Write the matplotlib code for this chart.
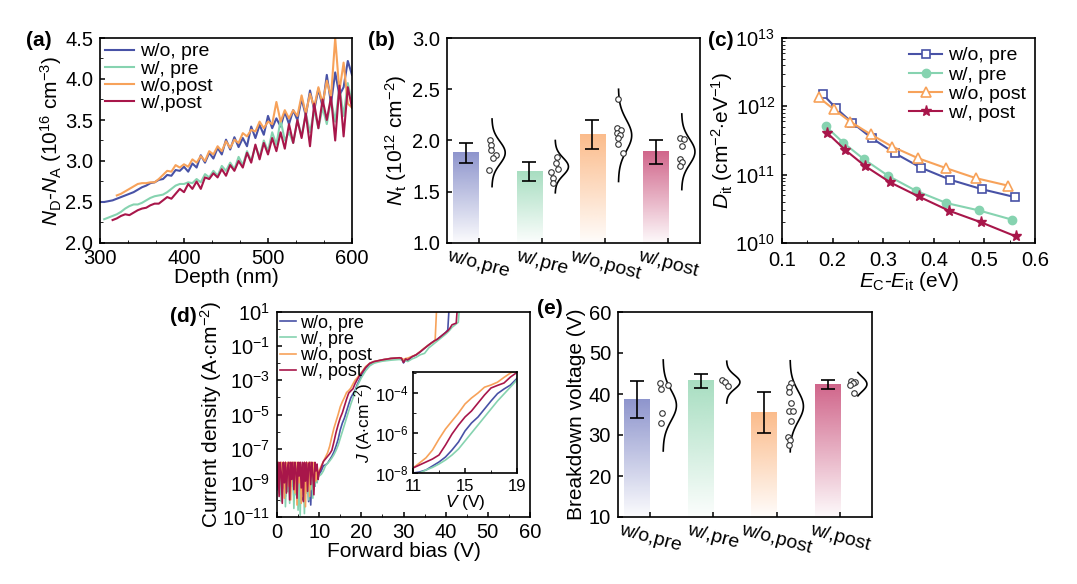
import matplotlib
matplotlib.use("Agg")
import matplotlib.pyplot as plt
import numpy as np
from matplotlib.colors import to_rgb
from matplotlib.ticker import AutoMinorLocator, MultipleLocator, NullFormatter, LogFormatterSciNotation

plt.rcParams['font.family'] = ['Liberation Sans', 'DejaVu Sans']
plt.rcParams['mathtext.fontset'] = 'custom'
plt.rcParams['mathtext.rm'] = 'Liberation Sans'
plt.rcParams['mathtext.it'] = 'Liberation Sans:italic'
plt.rcParams['mathtext.bf'] = 'Liberation Sans:bold'
plt.rcParams['axes.linewidth'] = 1.2
plt.rcParams['xtick.direction'] = 'in'
plt.rcParams['ytick.direction'] = 'in'
plt.rcParams['xtick.major.size'] = 3.5
plt.rcParams['ytick.major.size'] = 3.5
plt.rcParams['xtick.minor.size'] = 2
plt.rcParams['ytick.minor.size'] = 2
plt.rcParams['xtick.major.width'] = 1.1
plt.rcParams['ytick.major.width'] = 1.1
plt.rcParams['xtick.major.pad'] = 4.5
plt.rcParams['ytick.major.pad'] = 5
plt.rcParams['xtick.labelsize'] = 14.5
plt.rcParams['ytick.labelsize'] = 14.5
plt.rcParams['axes.labelsize'] = 15

# ---------------- colours / names ----------------
c_blue = '#4852a6'
c_green = '#86d3b0'
c_orange = '#f7a25a'
c_red = '#a8164a'
bar_colors = ['#7a82c4', '#98d8b6', '#fbb077', '#c84a76']
categories = ['w/o,pre', 'w/,pre', 'w/o,post', 'w/,post']

# ---------------- (a) C-V doping profile ----------------
depth_blue = np.arange(300, 601, 5)
nd_blue = [2.50, 2.50, 2.51, 2.52, 2.54, 2.56, 2.58, 2.60, 2.62, 2.65,
           2.68, 2.70, 2.73, 2.74, 2.77, 2.78, 2.83, 2.82, 2.89, 2.88,
           2.93, 2.87, 2.97, 2.92, 3.07, 2.98, 3.10, 3.03, 3.16, 3.08,
           3.26, 3.14, 3.29, 3.17, 3.28, 3.18, 3.42, 3.28, 3.44, 3.32,
           3.55, 3.40, 3.52, 3.42, 3.60, 3.45, 3.62, 3.50, 3.76, 3.55,
           3.86, 3.62, 3.88, 3.66, 4.05, 3.70, 4.08, 3.80, 3.90, 4.22,
           4.05]
depth_green = np.arange(305, 601, 5)
nd_green = [2.29, 2.31, 2.33, 2.35, 2.38, 2.42, 2.45, 2.47, 2.47, 2.49,
            2.52, 2.55, 2.57, 2.58, 2.59, 2.62, 2.66, 2.70, 2.72, 2.72,
            2.74, 2.73, 2.78, 2.74, 2.84, 2.80, 2.88, 2.82, 2.94, 2.88,
            2.98, 2.90, 3.05, 2.95, 3.12, 3.00, 3.18, 3.05, 3.25, 3.12,
            3.35, 3.20, 3.50, 3.25, 3.35, 3.22, 3.50, 3.30, 3.58, 3.35,
            3.62, 3.40, 3.65, 3.45, 3.75, 3.48, 3.90, 3.55, 3.95, 3.70]
depth_orange = np.arange(320, 601, 5)
nd_orange = [2.58, 2.60, 2.63, 2.66, 2.69, 2.72, 2.73, 2.73, 2.74, 2.74,
             2.78, 2.83, 2.88, 2.87, 2.95, 2.92, 2.96, 2.93, 3.02, 2.98,
             3.06, 3.00, 3.12, 3.08, 3.18, 3.12, 3.24, 3.16, 3.26, 3.22,
             3.34, 3.30, 3.38, 3.36, 3.48, 3.40, 3.48, 3.45, 3.72, 3.48,
             3.62, 3.52, 3.62, 3.55, 3.80, 3.58, 3.82, 3.66, 3.90, 3.70,
             3.98, 3.78, 4.50, 3.85, 4.20, 3.70, 3.65]
depth_red = np.arange(315, 601, 5)
nd_red = [2.28, 2.30, 2.33, 2.35, 2.34, 2.37, 2.40, 2.42, 2.43, 2.46,
          2.48, 2.48, 2.52, 2.56, 2.54, 2.60, 2.66, 2.62, 2.72, 2.66,
          2.75, 2.66, 2.80, 2.78, 2.85, 2.80, 2.90, 2.82, 2.95, 2.88,
          3.00, 2.92, 3.10, 2.98, 3.20, 3.02, 3.22, 3.08, 3.28, 3.12,
          3.35, 3.15, 3.45, 3.22, 3.50, 3.28, 3.58, 3.18, 3.70, 3.40,
          3.75, 3.50, 3.78, 3.25, 3.92, 3.30, 3.90, 3.65]

# ---------------- (b) Nt bars ----------------
nt_mean = [1.88, 1.70, 2.06, 1.89]
nt_err = [0.10, 0.095, 0.14, 0.115]
nt_points = [[2.00, 1.96, 1.91, 1.86, 1.83, 1.71],
             [1.84, 1.78, 1.72, 1.69, 1.63, 1.59],
             [2.40, 2.12, 2.10, 2.07, 2.05, 2.02, 1.97, 1.88],
             [2.02, 2.01, 1.95, 1.82, 1.79, 1.75]]
nt_jitter = [[0.18, 0.20, 0.19, 0.27, 0.22, 0.16],
             [0.24, 0.22, 0.25, 0.15, 0.18, 0.17],
             [0.20, 0.19, 0.25, 0.18, 0.24, 0.20, 0.21, 0.28],
             [0.19, 0.25, 0.21, 0.19, 0.22, 0.19]]
nt_curve_mu = [1.88, 1.745, 2.05, 1.89]
nt_curve_sd = [0.11, 0.085, 0.15, 0.123]
nt_curve_span = [3, 3, 3, 3]

# ---------------- (c) Dit ----------------
e_blue = [0.181, 0.2075, 0.239, 0.278, 0.323, 0.374, 0.433, 0.496, 0.560]
dit_blue = [1.49e12, 9.3e11, 5.75e11, 3.4e11, 2.06e11, 1.27e11, 8.4e10, 6.1e10, 4.7e10]
e_green = [0.186, 0.221, 0.262, 0.310, 0.365, 0.425, 0.489, 0.555]
dit_green = [5.15e11, 2.94e11, 1.68e11, 9.6e10, 5.8e10, 3.84e10, 3.0e10, 2.19e10]
e_orange = [0.1726, 0.202, 0.235, 0.275, 0.318, 0.369, 0.425, 0.483, 0.547]
dit_orange = [1.35e12, 9.1e11, 5.96e11, 3.9e11, 2.57e11, 1.74e11, 1.24e11, 8.9e10, 6.9e10]
e_red = [0.189, 0.225, 0.264, 0.314, 0.370, 0.430, 0.494, 0.562]
dit_red = [4.1e11, 2.3e11, 1.34e11, 7.7e10, 4.8e10, 2.97e10, 2.0e10, 1.25e10]

# ---------------- (d) forward J-V (log10 of J) ----------------
bias_noise = np.arange(0, 10.01, 0.25)
noise_blue = [-9.4, -8.3, -9.1, -8.0, -9.7, -8.4, -9.0, -8.1, -9.8, -8.6,
              -9.3, -8.2, -9.6, -8.5, -9.1, -8.0, -9.9, -8.4, -9.4, -8.2,
              -9.7, -8.7, -9.2, -8.3, -10.0, -8.6, -9.3, -8.2, -9.5, -8.5,
              -10.1, -8.4, -10.3, -8.6, -9.6, -8.8, -9.2, -8.5, -8.9, -8.6, -8.5]
noise_green = [-9.0, -8.2, -9.6, -7.9, -10.1, -8.4, -9.3, -7.9, -10.4, -8.8,
               -9.5, -8.0, -10.2, -8.6, -9.2, -8.1, -10.5, -8.9, -9.7, -8.2,
               -10.6, -8.5, -10.9, -8.3, -9.8, -8.7, -10.8, -8.4, -9.6, -8.1,
               -10.0, -8.6, -9.4, -8.2, -9.9, -8.5, -9.2, -8.3, -9.0, -8.6, -8.6]
noise_orange = [-8.6, -7.8, -9.4, -8.0, -7.8, -9.0, -7.8, -9.9, -7.8, -8.5,
                -7.8, -9.2, -7.8, -10.0, -7.8, -8.7, -7.8, -9.6, -7.8, -10.3,
                -7.8, -9.0, -7.8, -10.2, -7.9, -9.5, -7.8, -10.4, -7.8, -9.2,
                -7.8, -9.8, -7.8, -8.6, -7.8, -9.4, -7.9, -8.9, -8.0, -8.6, -8.3]
noise_red = [-9.2, -7.8, -9.8, -7.8, -8.4, -10.2, -7.8, -9.0, -7.8, -9.6,
             -8.1, -7.8, -10.0, -7.8, -8.8, -7.8, -9.4, -7.8, -8.2, -9.9,
             -7.8, -8.6, -7.8, -9.3, -7.8, -10.1, -7.8, -8.9, -7.8, -9.5,
             -7.9, -7.8, -9.1, -7.8, -8.5, -9.7, -7.8, -8.3, -7.9, -8.8, -8.4]

bias_rise = [10.5, 11, 11.5, 12, 12.5, 13, 13.5, 14, 14.5, 15,
             15.5, 16, 16.5, 17, 17.5, 18, 18.5, 19, 19.5, 20,
             21, 22, 23, 24, 25, 26, 27, 28, 29, 29.5,
             30, 30.5, 31, 32, 33, 34, 35, 36, 37, 37.5,
             38, 39, 40, 40.5, 41, 41.5, 42, 42.5, 43, 43.5,
             44]
nan = np.nan
rise_blue = [-8.3, -8.0, -7.95, -7.85, -7.65, -7.45, -7.2, -6.85, -6.45, -5.9,
             -5.5, -5.2, -4.8, -4.4, -4.03, -3.8, -3.6, -3.27, -3.0, -2.75,
             -2.3, -2.05, -1.92, -1.86, -1.8, -1.76, -1.72, -1.7, -1.68, -1.72,
             -1.98, -1.8, -1.85, -1.62, -1.52, -1.33, -1.12, -0.93, -0.75, -0.67,
             -0.6, -0.4, -0.2, -0.05, 2.0, nan, nan, nan, nan, nan,
             nan]
rise_green = [-8.5, -8.3, -8.0, -7.85, -7.72, -7.55, -7.35, -7.1, -6.8, -6.4,
              -6.0, -5.6, -5.2, -4.8, -4.4, -4.05, -3.7, -3.34, -3.1, -2.85,
              -2.45, -2.15, -2.0, -1.93, -1.88, -1.85, -1.82, -1.8, -1.78, -1.8,
              -1.85, -1.85, -1.9, -1.75, -1.65, -1.5, -1.42, -1.1, -0.9, -0.8,
              -0.7, -0.5, -0.3, -0.18, -0.05, 0.1, 0.2, 0.3, 0.4, 2.0,
              nan]
rise_orange = [-8.0, -7.75, -7.5, -7.24, -6.85, -6.3, -5.8, -5.4, -5.0, -4.55,
               -4.25, -4.0, -3.71, -3.6, -3.46, -3.22, -3.0, -2.86, -2.7, -2.55,
               -2.2, -2.0, -1.9, -1.85, -1.8, -1.75, -1.72, -1.7, -1.68, -1.7,
               -1.78, -1.72, -1.7, -1.6, -1.5, -1.3, -1.1, -0.92, -0.75, -0.68,
               2.0, nan, nan, nan, nan, nan, nan, nan, nan, nan,
               nan]
rise_red = [-8.1, -7.75, -7.6, -7.45, -7.3, -7.1, -6.6, -6.05, -5.6, -5.2,
            -4.9, -4.5, -4.1, -3.75, -3.62, -3.5, -3.2, -2.97, -2.75, -2.6,
            -2.25, -2.0, -1.9, -1.85, -1.8, -1.76, -1.72, -1.7, -1.68, -1.7,
            -1.95, -1.75, -1.8, -1.62, -1.5, -1.32, -1.12, -0.92, -0.74, -0.66,
            -0.6, -0.4, -0.2, -0.1, 0.05, 0.25, 0.3, 0.35, 2.0, nan,
            nan]

# ---------------- (e) breakdown voltage ----------------
bv_mean = [38.6, 43.2, 35.5, 42.3]
bv_err = [4.5, 1.7, 5.1, 1.0]
bv_points = [[42.6, 42.2, 41.2, 35.3, 33.0],
             [43.3, 42.9, 42.0],
             [42.8, 41.8, 40.6, 37.9, 35.9, 35.9, 33.3, 29.5, 28.8, 27.6],
             [43.25, 43.0, 42.6, 42.2, 40.2]]
bv_jitter = [[0.16, 0.28, 0.18, 0.20, 0.17],
             [0.14, 0.19, 0.23],
             [0.22, 0.19, 0.20, 0.22, 0.19, 0.26, 0.23, 0.18, 0.21, 0.19],
             [0.17, 0.24, 0.20, 0.16, 0.21]]
bv_curve_mu = [37.2, 42.9, 37.0, 42.4]
bv_curve_sd = [3.7, 1.7, 3.7, 1.9]
bv_curve_span = [3, 3, 3, 1.5]

W, H = 1077, 584
fig = plt.figure(figsize=(W / 100, H / 100), dpi=100)


def px_axes(left, top, right, bottom):
    return fig.add_axes([left / W, 1 - bottom / H, (right - left) / W, (bottom - top) / H])


def gradient_bar(ax, x, top, bottom, color, width=0.4):
    img = np.zeros((256, 1, 4))
    img[:, 0, :3] = to_rgb(color)
    img[:, 0, 3] = np.linspace(0.03, 0.85, 256)
    ax.imshow(img, extent=[x - width / 2, x + width / 2, bottom, top], origin='lower',
              aspect='auto', interpolation='bilinear', zorder=1)


def bar_panel(ax, means, errs, points, jitter, mus, sds, spans, ylim):
    pos = np.arange(1, len(means) + 1)
    for i, p in enumerate(pos):
        gradient_bar(ax, p - 0.2, means[i], ylim[0], bar_colors[i])
        ax.errorbar(p - 0.2, means[i], yerr=errs[i], fmt='none', ecolor='black',
                    elinewidth=1.2, capsize=5, capthick=1.2, zorder=3)
        ax.scatter(p + np.array(jitter[i]), points[i], s=16, facecolors='white',
                   edgecolors='#333333', linewidths=0.8, zorder=4)
        yy = np.linspace(mus[i] - spans[i] * sds[i], mus[i] + spans[i] * sds[i], 100)
        xx = p + 0.21 + 0.21 * np.exp(-0.5 * ((yy - mus[i]) / sds[i]) ** 2)
        ax.plot(xx, yy, color='black', lw=1.2, zorder=3)
    ax.set_xlim(0.5, len(means) + 0.5)
    ax.set_ylim(*ylim)
    ax.set_xticks(pos)
    ax.set_xticklabels(categories, rotation=-15, ha='center', fontsize=14)
    ax.tick_params(axis='x', pad=3)


# (a)
ax = px_axes(100, 38, 352, 243)
ax.plot(depth_blue, nd_blue, color=c_blue, lw=1.5, label='w/o, pre')
ax.plot(depth_green, nd_green, color=c_green, lw=1.5, label='w/, pre')
ax.plot(depth_orange, nd_orange, color=c_orange, lw=1.5, label='w/o,post')
ax.plot(depth_red, nd_red, color=c_red, lw=1.5, label='w/,post')
ax.set_xlim(300, 600)
ax.set_ylim(2.0, 4.5)
ax.set_xticks([300, 400, 500, 600])
ax.xaxis.set_minor_locator(AutoMinorLocator(3))
ax.yaxis.set_major_locator(MultipleLocator(0.5))
ax.yaxis.set_minor_locator(AutoMinorLocator(2))
ax.set_xlabel('Depth (nm)', labelpad=0)
ax.set_ylabel(r'$N_\mathrm{D}$-$N_\mathrm{A}$ (10$^{16}$ cm$^{-3}$)', labelpad=1)
ax.legend(loc='upper left', frameon=False, fontsize=14, handlelength=1.5, handletextpad=0.3,
          labelspacing=-0.02, borderaxespad=0.15, borderpad=0.1)

# (b)
ax = px_axes(447, 38, 700, 243)
bar_panel(ax, nt_mean, nt_err, nt_points, nt_jitter, nt_curve_mu, nt_curve_sd, nt_curve_span, (1.0, 3.0))
ax.yaxis.set_major_locator(MultipleLocator(0.5))
ax.set_ylabel(r'$N_\mathrm{t}$ (10$^{12}$ cm$^{-2}$)', labelpad=2)

# (c)
ax = px_axes(782, 38, 1035, 243)
ax.plot(e_blue, dit_blue, color=c_blue, lw=1.5, marker='s', ms=5.5, mfc='white', mew=1.2, label='w/o, pre')
ax.plot(e_green, dit_green, color=c_green, lw=1.5, marker='o', ms=6, label='w/, pre')
ax.plot(e_orange, dit_orange, color=c_orange, lw=1.5, marker='^', ms=7, mfc='white', mew=1.2, label='w/o, post')
ax.plot(e_red, dit_red, color=c_red, lw=1.5, marker='*', ms=8, label='w/, post')
ax.set_yscale('log')
ax.set_xlim(0.1, 0.6)
ax.set_ylim(1e10, 1e13)
ax.set_xticks([0.1, 0.2, 0.3, 0.4, 0.5, 0.6])
ax.xaxis.set_minor_locator(AutoMinorLocator(2))
ax.tick_params(axis='x', pad=6)
ax.set_xlabel(r'$E_\mathrm{C}$-$E_\mathrm{it}$ (eV)', labelpad=0)
ax.set_ylabel(r'$D_\mathrm{it}$ (cm$^{-2}$$\cdot$eV$^{-1}$)', labelpad=0)
ax.legend(loc='upper right', frameon=False, fontsize=14, handlelength=1.7, handletextpad=0.3,
          labelspacing=0.08, borderaxespad=0.2, borderpad=0.25)

# (d)
ax = px_axes(277, 312, 530, 517)
bias = np.concatenate([bias_noise, bias_rise])
series_d = [(noise_blue + rise_blue, c_blue, 'w/o, pre'),
            (noise_green + rise_green, c_green, 'w/, pre'),
            (noise_orange + rise_orange, c_orange, 'w/o, post'),
            (noise_red + rise_red, c_red, 'w/, post')]
for vals, col, lab in series_d:
    ax.plot(bias, 10 ** np.array(vals), color=col, lw=1.2, label=lab)
ax.set_yscale('log')
ax.set_xlim(0, 60)
ax.set_ylim(1e-11, 1e1)
ax.set_xticks(range(0, 61, 10))
ax.xaxis.set_minor_locator(AutoMinorLocator(2))
ax.set_yticks([10.0 ** k for k in range(1, -12, -2)])
ax.set_yticks([10.0 ** k for k in range(0, -11, -2)], minor=True)
ax.yaxis.set_major_formatter(LogFormatterSciNotation())
ax.yaxis.set_minor_formatter(NullFormatter())
ax.set_xlabel('Forward bias (V)', labelpad=0)
ax.set_ylabel(r'Current density (A$\cdot$cm$^{-2}$)', labelpad=-1)
ax.legend(loc='upper left', frameon=False, fontsize=13, handlelength=0.9, handletextpad=0.25,
          labelspacing=-0.05, borderaxespad=0.1, borderpad=0.05)

# (d) inset
axi = px_axes(413, 372, 517, 473)
for vals, col, lab in series_d:
    axi.plot(bias, 10 ** np.array(vals), color=col, lw=1.2)
axi.set_yscale('log')
axi.set_xlim(11, 19)
axi.set_ylim(1e-8, 10 ** -2.95)
axi.set_xticks([11, 15, 19])
axi.xaxis.set_minor_locator(AutoMinorLocator(2))
axi.set_yticks([1e-8, 1e-6, 1e-4])
axi.set_yticks([1e-7, 1e-5, 1e-3], minor=True)
axi.yaxis.set_major_formatter(LogFormatterSciNotation())
axi.yaxis.set_minor_formatter(NullFormatter())
axi.tick_params(labelsize=12, pad=3)
axi.tick_params(axis='x', pad=4.5)
axi.set_xlabel(r'$V$ (V)', fontsize=12.5, labelpad=-1)
axi.set_ylabel(r'$J$ (A$\cdot$cm$^{-2}$)', fontsize=12.5, labelpad=0)

# (e)
ax = px_axes(618, 312, 872, 517)
bar_panel(ax, bv_mean, bv_err, bv_points, bv_jitter, bv_curve_mu, bv_curve_sd, bv_curve_span, (10, 60))
ax.yaxis.set_major_locator(MultipleLocator(10))
ax.set_ylabel('Breakdown voltage (V)', labelpad=2)

# panel letters
for lab, x, y in [('(a)', 26, 40), ('(b)', 368, 40), ('(c)', 708, 40), ('(d)', 170, 317), ('(e)', 537, 308)]:
    fig.text(x / W, 1 - y / H, lab, fontsize=15, fontweight='bold', va='center', ha='left')

fig.savefig('out.png', dpi=100)
